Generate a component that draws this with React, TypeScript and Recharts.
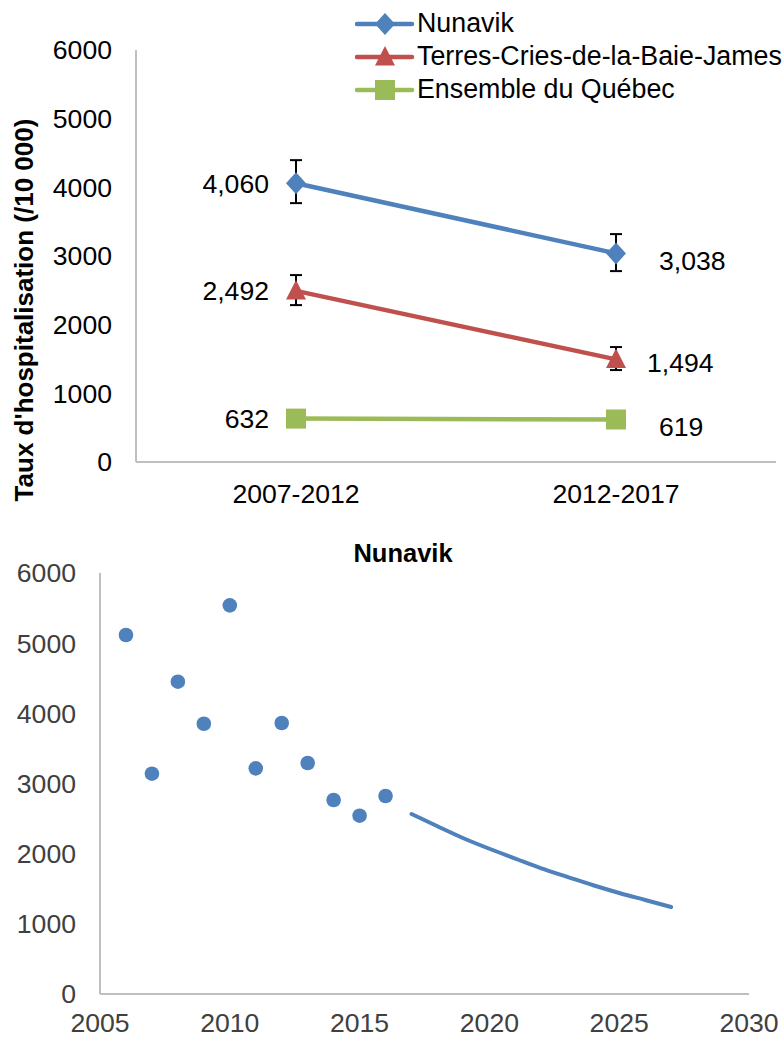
import React from 'react';
import {
  LineChart,
  Line,
  XAxis,
  YAxis,
  ErrorBar,
  LabelList,
  Legend,
  Label,
  ComposedChart,
  Scatter,
} from 'recharts';

// ---------- Top chart data ----------
const periods = ['2007-2012', '2012-2017'];
const nunavik = [4060, 3038];
const nunavikErr = [[290, 336], [258, 281]];
const terres = [2492, 1494];
const terresErr = [[207, 230], [155, 180]];
const quebec = [632, 619];
const rateTicks = [0, 1000, 2000, 3000, 4000, 5000, 6000];
const seriesNames = ['Nunavik', 'Terres-Cries-de-la-Baie-James', 'Ensemble du Québec'];

// ---------- Bottom chart data ----------
const years = [2006, 2007, 2008, 2009, 2010, 2011, 2012, 2013, 2014, 2015, 2016];
const yearRates = [5116, 3140, 4451, 3852, 5539, 3216, 3862, 3292, 2765, 2541, 2822];
const trendYears = [2017, 2018, 2019, 2020, 2021, 2022, 2023, 2024, 2025, 2026, 2027];
const trendRates = [2565, 2390, 2220, 2070, 1930, 1790, 1670, 1550, 1440, 1340, 1240];
const yearTicks = [2005, 2010, 2015, 2020, 2025, 2030];

const BLUE = '#4F81BD';
const RED = '#C0504D';
const GREEN = '#9BBB59';
const AXIS = '#BFBFBF';
const FONT = '"Liberation Sans", Arial, sans-serif';
const FS = 26.6;

const topData = periods.map((p, i) => ({
  period: p,
  nunavik: nunavik[i],
  nunavikErr: nunavikErr[i],
  terres: terres[i],
  terresErr: terresErr[i],
  quebec: quebec[i],
}));

const scatterData = years.map((y, i) => ({ year: y, rate: yearRates[i] }));
const trendData = trendYears.map((y, i) => ({ year: y, rate: trendRates[i] }));

type Shape = 'diamond' | 'triangle' | 'square';

const markerPath = (shape: Shape, cx: number, cy: number) => {
  if (shape === 'diamond') return `M${cx},${cy - 11}L${cx + 10},${cy}L${cx},${cy + 11}L${cx - 10},${cy}Z`;
  if (shape === 'triangle') return `M${cx},${cy - 11}L${cx + 10},${cy + 8.5}L${cx - 10},${cy + 8.5}Z`;
  return `M${cx - 10},${cy - 10}h20v20h-20Z`;
};

const makeDot = (shape: Shape, color: string) => (props: any) => {
  const { cx, cy, index } = props;
  if (cx == null || cy == null) return <g key={`d-${index}`} />;
  return <path key={`d-${shape}-${index}`} d={markerPath(shape, cx, cy)} fill={color} stroke="none" />;
};

const makeLabel = (rightDx: number, rightDy: number) => (props: any) => {
  const { x, y, value, index } = props;
  const txt = Number(value).toLocaleString('en-US');
  if (index === 0) {
    return (
      <text key={`l-${index}`} x={x - 27} y={y + 9.5} textAnchor="end" fontSize={FS} fontFamily={FONT} fill="#000">
        {txt}
      </text>
    );
  }
  return (
    <text key={`l-${index}`} x={x + rightDx} y={y + 9.5 + rightDy} textAnchor="start" fontSize={FS} fontFamily={FONT} fill="#000">
      {txt}
    </text>
  );
};

const legendItems: { name: string; color: string; shape: Shape }[] = [
  { name: seriesNames[0], color: BLUE, shape: 'diamond' },
  { name: seriesNames[1], color: RED, shape: 'triangle' },
  { name: seriesNames[2], color: GREEN, shape: 'square' },
];

const renderLegend = () => (
  <div style={{ fontFamily: FONT }}>
    {legendItems.map((it) => (
      <div key={it.name} style={{ display: 'flex', alignItems: 'center', height: 33 }}>
        <svg width={62} height={26} style={{ display: 'block' }}>
          <line x1={2} y1={13} x2={57} y2={13} stroke={it.color} strokeWidth={4.5} strokeLinecap="round" />
          <path d={markerPath(it.shape, 30, 13)} fill={it.color} />
        </svg>
        <span style={{ fontSize: 26.8, color: '#000', whiteSpace: 'nowrap', lineHeight: '33px' }}>{it.name}</span>
      </div>
    ))}
  </div>
);

const renderYTitle = () => (
  <text
    x={33}
    y={310}
    transform="rotate(-90, 33, 310)"
    textAnchor="middle"
    fontSize={26}
    fontWeight="bold"
    fontFamily={FONT}
    fill="#000"
  >
    {"Taux d'hospitalisation  (/10 000)"}
  </text>
);

export default function App() {
  return (
    <div style={{ position: 'absolute', left: 0, top: 0, width: 782, height: 1038, background: '#fff', fontFamily: FONT }}>
      <div style={{ position: 'absolute', left: 0, top: 0 }}>
        <LineChart width={782} height={520} data={topData} margin={{ top: 50, right: 6, left: 0, bottom: 0 }}>
          <XAxis
            dataKey="period"
            height={58}
            padding={{ left: 160, right: 160 }}
            tickLine={false}
            tickSize={0}
            tickMargin={22}
            axisLine={{ stroke: AXIS, strokeWidth: 2 }}
            tick={{ fontSize: FS, fill: '#000', fontFamily: FONT }}
            interval={0}
          />
          <YAxis
            width={136}
            domain={[0, 6000]}
            ticks={rateTicks}
            tickLine={false}
            tickSize={0}
            tickMargin={24}
            axisLine={{ stroke: AXIS, strokeWidth: 2 }}
            tick={{ fontSize: FS, fill: '#000', fontFamily: FONT }}
            interval={0}
          >
            <Label content={renderYTitle} />
          </YAxis>
          <Legend
            layout="vertical"
            align="center"
            verticalAlign="middle"
            content={renderLegend}
            wrapperStyle={{ position: 'absolute', top: 7, left: 355, width: 430 }}
          />
          <Line
            dataKey="quebec"
            name={seriesNames[2]}
            stroke={GREEN}
            strokeWidth={4.5}
            dot={makeDot('square', GREEN)}
            activeDot={false}
            isAnimationActive={false}
          >
            <LabelList dataKey="quebec" content={makeLabel(43, 7.5)} />
          </Line>
          <Line
            dataKey="terres"
            name={seriesNames[1]}
            stroke={RED}
            strokeWidth={4.5}
            dot={makeDot('triangle', RED)}
            activeDot={false}
            isAnimationActive={false}
          >
            <ErrorBar dataKey="terresErr" width={6} stroke="#000" strokeWidth={2} direction="y" />
            <LabelList dataKey="terres" content={makeLabel(31, 3)} />
          </Line>
          <Line
            dataKey="nunavik"
            name={seriesNames[0]}
            stroke={BLUE}
            strokeWidth={4.5}
            dot={makeDot('diamond', BLUE)}
            activeDot={false}
            isAnimationActive={false}
          >
            <ErrorBar dataKey="nunavikErr" width={6} stroke="#000" strokeWidth={2} direction="y" />
            <LabelList dataKey="nunavik" content={makeLabel(43, 7)} />
          </Line>
        </LineChart>
      </div>

      <div
        style={{
          position: 'absolute',
          left: 303,
          width: 200,
          top: 538,
          textAlign: 'center',
          fontSize: 25.5,
          fontWeight: 'bold',
          color: '#000',
          lineHeight: '30px',
          fontFamily: FONT,
        }}
      >
        Nunavik
      </div>

      <div style={{ position: 'absolute', left: 0, top: 520 }}>
        <ComposedChart width={782} height={518} margin={{ top: 53, right: 33, left: 0, bottom: 0 }}>
          <XAxis
            dataKey="year"
            type="number"
            domain={[2005, 2030]}
            ticks={yearTicks}
            height={44}
            tickLine={false}
            tickSize={0}
            tickMargin={19}
            axisLine={{ stroke: AXIS, strokeWidth: 2 }}
            tick={{ fontSize: FS, fill: '#404040', fontFamily: FONT }}
            interval={0}
            allowDataOverflow
          />
          <YAxis
            width={100}
            domain={[0, 6000]}
            ticks={rateTicks}
            tickLine={false}
            tickSize={0}
            tickMargin={24}
            axisLine={{ stroke: AXIS, strokeWidth: 2 }}
            tick={{ fontSize: FS, fill: '#404040', fontFamily: FONT }}
            interval={0}
          />
          <Scatter
            data={scatterData}
            dataKey="rate"
            fill={BLUE}
            isAnimationActive={false}
            shape={(p: any) => <circle cx={p.cx} cy={p.cy} r={7.3} fill={BLUE} />}
          />
          <Line
            data={trendData}
            dataKey="rate"
            type="monotone"
            stroke={BLUE}
            strokeWidth={4}
            strokeLinecap="round"
            dot={false}
            activeDot={false}
            isAnimationActive={false}
          />
        </ComposedChart>
      </div>
    </div>
  );
}
